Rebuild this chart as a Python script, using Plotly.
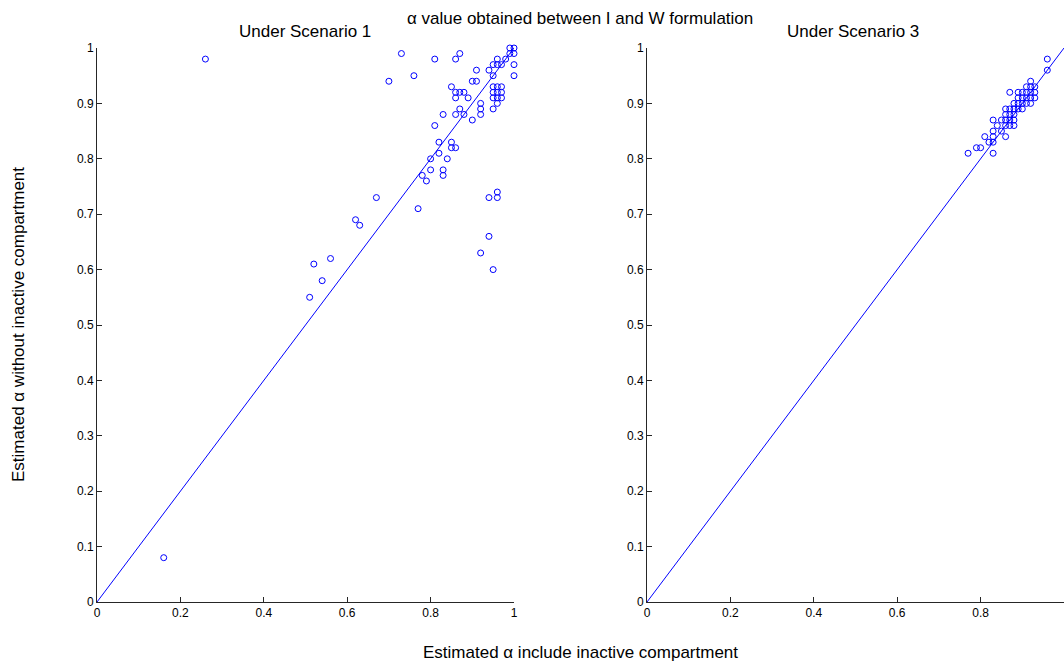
import plotly.graph_objects as go

# Scenario 1: estimated alpha (include inactive, without inactive)
s1_x = [0.16, 0.26, 0.51, 0.52, 0.54, 0.56, 0.62, 0.63, 0.67, 0.70, 0.73, 0.76,
        0.77, 0.78, 0.79, 0.80, 0.80, 0.81, 0.81, 0.82, 0.82, 0.83, 0.83, 0.83,
        0.84, 0.85, 0.85, 0.86, 0.85, 0.86, 0.87, 0.88, 0.86, 0.86, 0.87, 0.88,
        0.86, 0.87, 0.89, 0.90, 0.90, 0.91, 0.91, 0.92, 0.92, 0.92, 0.92, 0.94,
        0.94, 0.94, 0.95, 0.96, 0.96, 0.95, 0.97, 0.98, 0.99, 1.00, 0.99, 1.00,
        1.00, 1.00, 0.95, 0.96, 0.97, 0.95, 0.96, 0.97, 0.95, 0.96, 0.97, 0.96,
        0.95, 0.96, 0.96, 0.95]
s1_y = [0.08, 0.98, 0.55, 0.61, 0.58, 0.62, 0.69, 0.68, 0.73, 0.94, 0.99, 0.95,
        0.71, 0.77, 0.76, 0.78, 0.80, 0.86, 0.98, 0.81, 0.83, 0.77, 0.78, 0.88,
        0.80, 0.83, 0.82, 0.82, 0.93, 0.92, 0.92, 0.92, 0.91, 0.88, 0.89, 0.88,
        0.98, 0.99, 0.91, 0.87, 0.94, 0.94, 0.96, 0.90, 0.89, 0.88, 0.63, 0.96,
        0.73, 0.66, 0.97, 0.97, 0.98, 0.95, 0.97, 0.98, 1.00, 1.00, 0.99, 0.99,
        0.97, 0.95, 0.93, 0.93, 0.93, 0.92, 0.92, 0.92, 0.91, 0.91, 0.91, 0.90,
        0.89, 0.74, 0.73, 0.60]

# Scenario 3: estimated alpha (include inactive, without inactive)
s3_x = [0.96, 0.96, 0.92,
        0.91, 0.92, 0.93,
        0.87, 0.89, 0.90, 0.91, 0.92, 0.93,
        0.89, 0.90, 0.91, 0.92, 0.93,
        0.88, 0.89, 0.90, 0.91, 0.92,
        0.86, 0.87, 0.88, 0.89, 0.90,
        0.86, 0.87, 0.88,
        0.83, 0.85, 0.86, 0.87, 0.88,
        0.84, 0.86, 0.87, 0.88,
        0.83, 0.85,
        0.81, 0.83, 0.86,
        0.82, 0.83,
        0.79, 0.80,
        0.77, 0.83]
s3_y = [0.98, 0.96, 0.94,
        0.93, 0.93, 0.93,
        0.92, 0.92, 0.92, 0.92, 0.92, 0.92,
        0.91, 0.91, 0.91, 0.91, 0.91,
        0.90, 0.90, 0.90, 0.90, 0.90,
        0.89, 0.89, 0.89, 0.89, 0.89,
        0.88, 0.88, 0.88,
        0.87, 0.87, 0.87, 0.87, 0.87,
        0.86, 0.86, 0.86, 0.86,
        0.85, 0.85,
        0.84, 0.84, 0.84,
        0.83, 0.83,
        0.82, 0.82,
        0.81, 0.81]

diag = [0, 1]
x_ticks = [0, 0.2, 0.4, 0.6, 0.8, 1]
x_tick_text = ["0", "0.2", "0.4", "0.6", "0.8", "1"]
y_ticks = [0, 0.1, 0.2, 0.3, 0.4, 0.5, 0.6, 0.7, 0.8, 0.9, 1]
y_tick_text = ["0", "0.1", "0.2", "0.3", "0.4", "0.5", "0.6", "0.7", "0.8", "0.9", "1"]

BLUE = "#0000ff"
AXIS = "#262626"
FONT = "Liberation Sans, Arial, sans-serif"

fig = go.Figure()
for xs, ys, xa, ya in [(s1_x, s1_y, "x", "y"), (s3_x, s3_y, "x2", "y2")]:
    fig.add_trace(go.Scatter(x=diag, y=diag, mode="lines", xaxis=xa, yaxis=ya,
                             line=dict(color=BLUE, width=1), showlegend=False,
                             cliponaxis=False, hoverinfo="skip"))
    fig.add_trace(go.Scatter(x=xs, y=ys, mode="markers", xaxis=xa, yaxis=ya,
                             cliponaxis=False,
                             marker=dict(symbol="circle-open", size=6,
                                         color=BLUE, line=dict(width=1, color=BLUE)),
                             showlegend=False))

axis_common = dict(range=[0, 1], showgrid=False, zeroline=False, showline=True,
                   linecolor=AXIS, linewidth=1, ticks="inside", ticklen=5,
                   tickcolor=AXIS, tickwidth=1, mirror=False, automargin=False,
                   tickfont=dict(family=FONT, size=12, color="#000000"))

y_dom = [62 / 664, 1 - 48 / 664]
fig.update_layout(
    width=1064, height=664,
    margin=dict(l=0, r=0, t=0, b=0),
    paper_bgcolor="white", plot_bgcolor="white",
    xaxis=dict(domain=[97 / 1064, 514 / 1064], tickvals=x_ticks,
               ticktext=x_tick_text, anchor="y", **axis_common),
    yaxis=dict(domain=y_dom, tickvals=y_ticks, ticktext=y_tick_text,
               anchor="x", **axis_common),
    xaxis2=dict(domain=[647 / 1064, 1.0], tickvals=x_ticks,
                ticktext=x_tick_text, anchor="y2", **axis_common),
    yaxis2=dict(domain=y_dom, tickvals=y_ticks, ticktext=y_tick_text,
                anchor="x2", **axis_common),
)

def label(text, px, py, angle=0):
    fig.add_annotation(text=text, x=px / 1064, y=1 - py / 664,
                       xref="paper", yref="paper", showarrow=False,
                       xanchor="center", yanchor="middle", textangle=angle,
                       font=dict(family=FONT, size=17, color="#000000"))

label("α value obtained between I and W formulation", 580, 18)
label("Under Scenario 1", 305, 31)
label("Under Scenario 3", 853, 31)
label("Estimated α include inactive compartment", 580, 652)
label("Estimated α without inactive compartment", 18, 325, angle=-90)

fig.write_html("out.html")
